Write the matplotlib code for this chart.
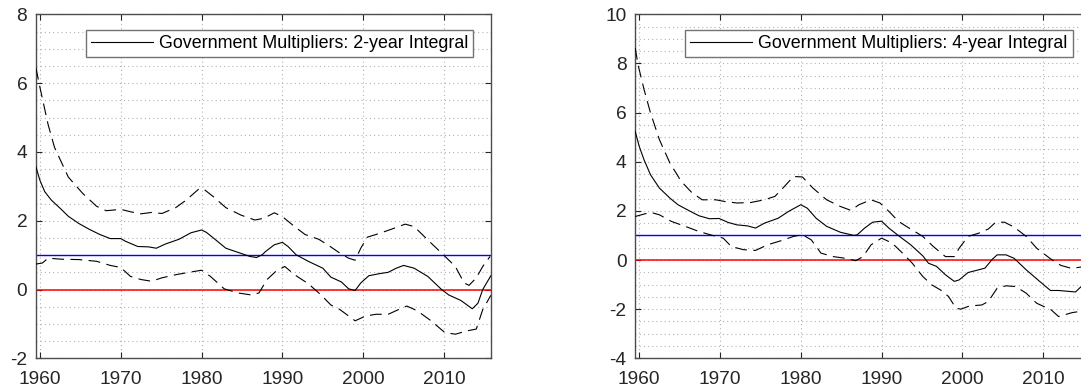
import matplotlib

matplotlib.use("Agg")
import matplotlib.pyplot as plt
from matplotlib.ticker import MultipleLocator

plt.rcParams["font.family"] = ["Liberation Sans", "DejaVu Sans"]
plt.rcParams["axes.unicode_minus"] = False
plt.rcParams["lines.scale_dashes"] = False

# ---- 2-year integral (left panel) ----
years_2y_mid = [1959.5, 1960.0, 1960.6, 1961.4, 1962.5, 1963.5, 1964.8, 1966.1, 1967.4, 1968.7,
                1970.0, 1970.6, 1972.1, 1973.4, 1974.4, 1975.5, 1977.2, 1978.7, 1980.0, 1980.6,
                1981.5, 1983.0, 1984.5, 1986.0, 1986.8, 1987.5, 1987.9, 1989.0, 1990.0, 1990.7,
                1991.7, 1993.2, 1995.0, 1996.0, 1997.3, 1998.2, 1999.0, 1999.7, 2000.7, 2002.0,
                2003.1, 2004.1, 2005.0, 2006.3, 2008.0, 2009.7, 2010.6, 2012.1, 2013.5, 2014.2,
                2014.8, 2015.8]
mult_2y_mid = [3.56, 3.17, 2.84, 2.60, 2.36, 2.13, 1.92, 1.75, 1.60, 1.48,
               1.48, 1.40, 1.25, 1.24, 1.20, 1.32, 1.46, 1.65, 1.73, 1.66,
               1.49, 1.20, 1.08, 0.96, 0.93, 1.01, 1.10, 1.30, 1.37, 1.25,
               1.01, 0.82, 0.62, 0.36, 0.22, 0.02, -0.03, 0.19, 0.40, 0.46,
               0.50, 0.62, 0.70, 0.62, 0.38, 0.00, -0.16, -0.32, -0.56, -0.40,
               0.00, 0.40]

years_2y_hi = [1959.5, 1960.0, 1961.0, 1961.8, 1963.5, 1965.3, 1967.0, 1968.2, 1970.0, 1971.2,
               1972.5, 1973.8, 1975.1, 1976.8, 1978.1, 1979.6, 1980.2, 1981.5, 1983.0, 1984.9,
               1986.6, 1987.7, 1989.0, 1990.0, 1991.5, 1992.8, 1994.5, 1995.6, 1997.1, 1998.2,
               1999.0, 1999.7, 2000.5, 2002.0, 2003.7, 2005.2, 2006.3, 2008.0, 2009.7, 2011.4,
               2012.5, 2013.1, 2014.0, 2014.8, 2015.7]
mult_2y_hi = [6.44, 5.87, 4.80, 4.13, 3.27, 2.79, 2.42, 2.29, 2.33, 2.26,
              2.20, 2.24, 2.21, 2.38, 2.60, 2.91, 2.93, 2.69, 2.38, 2.16,
              2.02, 2.07, 2.23, 2.12, 1.83, 1.60, 1.46, 1.30, 1.06, 0.91,
              0.85, 1.20, 1.52, 1.63, 1.77, 1.90, 1.83, 1.44, 1.06, 0.67,
              0.19, 0.12, 0.34, 0.67, 0.96]

years_2y_lo = [1959.5, 1960.3, 1961.0, 1962.7, 1964.8, 1967.0, 1968.7, 1970.0, 1971.2, 1972.5,
               1973.8, 1975.1, 1976.8, 1978.7, 1980.0, 1981.1, 1982.8, 1984.5, 1986.2, 1987.1,
               1988.1, 1989.2, 1990.3, 1991.5, 1993.2, 1994.7, 1996.0, 1997.1, 1998.2, 1999.0,
               2000.3, 2001.6, 2003.1, 2004.6, 2005.4, 2006.7, 2008.4, 2010.1, 2011.4, 2012.9,
               2014.0, 2014.8, 2015.8]
mult_2y_lo = [0.74, 0.77, 0.91, 0.88, 0.87, 0.82, 0.70, 0.64, 0.38, 0.29,
              0.24, 0.34, 0.43, 0.51, 0.56, 0.38, 0.02, -0.10, -0.16, -0.10,
              0.29, 0.53, 0.67, 0.43, 0.17, -0.14, -0.45, -0.58, -0.77, -0.91,
              -0.77, -0.72, -0.72, -0.56, -0.48, -0.62, -0.91, -1.25, -1.30, -1.20,
              -1.15, -0.58, -0.17]

# ---- 4-year integral (right panel) ----
years_4y_mid = [1959.5, 1960.0, 1960.6, 1961.4, 1962.5, 1963.8, 1964.8, 1966.1, 1967.4, 1968.7,
                1969.9, 1971.0, 1972.1, 1973.4, 1974.4, 1975.5, 1977.2, 1978.5, 1980.0, 1980.8,
                1981.9, 1983.2, 1984.9, 1986.6, 1987.0, 1987.9, 1988.9, 1990.0, 1990.9, 1992.1,
                1993.6, 1995.1, 1995.8, 1996.8, 1997.9, 1999.0, 1999.6, 2000.7, 2002.0, 2002.8,
                2003.7, 2004.3, 2005.4, 2006.4, 2007.9, 2009.6, 2010.9, 2011.9, 2014.0, 2014.8]
mult_4y_mid = [5.24, 4.63, 4.08, 3.47, 2.93, 2.52, 2.25, 2.02, 1.80, 1.68,
               1.69, 1.53, 1.43, 1.39, 1.30, 1.50, 1.70, 1.98, 2.25, 2.11,
               1.70, 1.37, 1.13, 1.00, 1.03, 1.30, 1.54, 1.58, 1.30, 0.99,
               0.62, 0.17, -0.13, -0.26, -0.60, -0.87, -0.81, -0.51, -0.40, -0.33,
               0.03, 0.21, 0.21, 0.07, -0.40, -0.88, -1.24, -1.24, -1.30, -1.05]

years_4y_hi = [1959.5, 1959.9, 1960.6, 1961.4, 1962.5, 1963.8, 1965.2, 1966.5, 1967.8, 1969.5,
               1970.6, 1972.1, 1973.8, 1975.5, 1976.8, 1977.6, 1979.1, 1980.2, 1981.5, 1983.2,
               1984.9, 1986.2, 1987.2, 1988.7, 1989.8, 1990.9, 1992.1, 1993.4, 1995.1, 1996.4,
               1997.9, 1999.0, 1999.6, 2000.7, 2002.0, 2003.2, 2004.1, 2005.2, 2006.4, 2007.9,
               2009.2, 2010.9, 2012.2, 2013.5, 2014.8]
mult_4y_hi = [8.63, 7.89, 6.94, 5.99, 4.90, 3.95, 3.20, 2.75, 2.45, 2.45,
              2.38, 2.32, 2.34, 2.45, 2.59, 2.86, 3.40, 3.38, 2.93, 2.45,
              2.18, 2.02, 2.25, 2.45, 2.32, 1.98, 1.57, 1.30, 0.96, 0.55,
              0.14, 0.14, 0.48, 0.96, 1.09, 1.26, 1.53, 1.54, 1.34, 0.96,
              0.48, 0.05, -0.22, -0.34, -0.28]

years_4y_lo = [1959.5, 1960.6, 1961.4, 1962.5, 1964.0, 1965.7, 1967.4, 1969.1, 1970.4, 1971.4,
               1972.9, 1974.4, 1975.9, 1977.6, 1979.1, 1980.2, 1981.3, 1982.5, 1984.0, 1985.5,
               1986.8, 1987.7, 1988.7, 1990.0, 1991.3, 1992.6, 1993.8, 1995.1, 1996.2, 1997.3,
               1998.3, 1999.2, 1999.8, 2000.9, 2002.4, 2003.2, 2004.3, 2005.4, 2006.6, 2007.9,
               2009.2, 2011.0, 2011.9, 2013.6, 2014.8]
mult_4y_lo = [1.77, 1.87, 1.94, 1.84, 1.57, 1.37, 1.16, 1.00, 0.89, 0.55,
              0.42, 0.39, 0.62, 0.79, 0.96, 1.03, 0.82, 0.28, 0.14, 0.07,
              -0.03, 0.14, 0.62, 0.89, 0.69, 0.28, -0.13, -0.67, -1.01, -1.22,
              -1.49, -1.96, -2.00, -1.87, -1.83, -1.69, -1.15, -1.05, -1.08, -1.35,
              -1.76, -2.03, -2.30, -2.14, -2.08]

panels = [
    ("Government Multipliers: 2-year Integral", years_2y_mid, mult_2y_mid,
     years_2y_hi, mult_2y_hi, years_2y_lo, mult_2y_lo, (-2, 8)),
    ("Government Multipliers: 4-year Integral", years_4y_mid, mult_4y_mid,
     years_4y_hi, mult_4y_hi, years_4y_lo, mult_4y_lo, (-4, 10)),
]

W, H = 1081, 389
fig = plt.figure(figsize=(W / 100, H / 100), dpi=100)

# axes boxes in pixels: left, bottom, width, height (right panel runs past the edge)
boxes = [(35.7, 30.7, 455.0, 344.0), (634.9, 30.7, 455.0, 344.0)]
PX_PER_YEAR = 8.08
DASH = (8.5, 4.6)
GRID = dict(color="0.7", linestyle=(0, (0.8, 2.2)), lw=0.8)

for box, (label, ym, vm, yh, vh, yl, vl, ylim) in zip(boxes, panels):
    x0, y0, w, h = box
    ax = fig.add_axes([x0 / W, y0 / H, w / W, h / H])
    ax.set_xlim(1959.47, 1959.47 + w / PX_PER_YEAR)
    ax.set_ylim(*ylim)

    ax.axhline(1, color="blue", lw=1.0, zorder=2)
    ax.axhline(0, color="red", lw=1.1, zorder=2)
    ax.plot(ym, vm, color="black", lw=0.8, label=label, zorder=3)
    ax.plot(yh, vh, color="black", lw=0.8, dashes=DASH, zorder=3)
    ax.plot(yl, vl, color="black", lw=0.8, dashes=DASH, zorder=3)

    ax.xaxis.set_major_locator(MultipleLocator(10))
    ax.yaxis.set_major_locator(MultipleLocator(2))
    ax.yaxis.set_minor_locator(MultipleLocator(0.5))
    ax.grid(True, which="major", **GRID)
    ax.grid(True, which="minor", axis="y", **GRID)
    ax.set_axisbelow(True)

    ax.tick_params(which="major", direction="in", length=4, width=0.8, colors="0.15",
                   top=True, right=True, labelsize=13.8)
    ax.tick_params(axis="x", pad=9)
    ax.tick_params(axis="y", pad=6)
    ax.tick_params(which="minor", length=0)
    for sp in ax.spines.values():
        sp.set_color("0.3")
        sp.set_linewidth(1.0)

    leg = ax.legend(loc="upper right", bbox_to_anchor=(1 - 17.3 / w, 1 - 15.7 / h),
                    borderaxespad=0, fontsize=12.9, handlelength=3.45, handletextpad=0.35,
                    borderpad=0.28, fancybox=False, framealpha=1)
    leg.get_frame().set_edgecolor("0.45")
    leg.get_frame().set_linewidth(1.0)

fig.savefig("out.png", dpi=100)
